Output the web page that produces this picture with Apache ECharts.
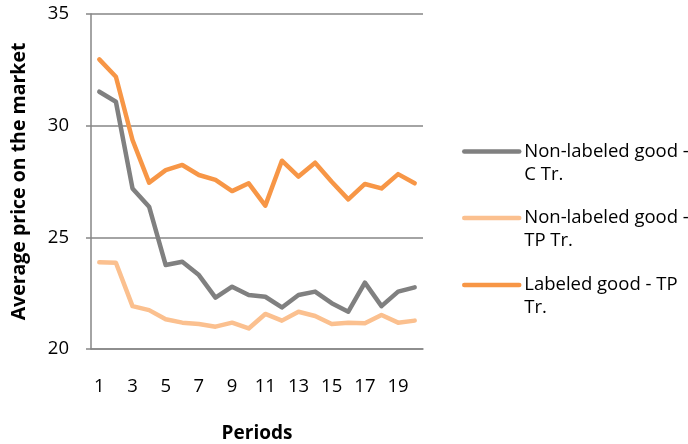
<!DOCTYPE html>
<html>
<head>
<meta charset="utf-8">
<script src="https://cdn.jsdelivr.net/npm/echarts@6/dist/echarts.min.js"></script>
<style>
html,body{margin:0;padding:0;background:#fff;}
#chart{width:688px;height:444px;}
</style>
</head>
<body>
<div id="chart"></div>
<script>
const periods = ['1','2','3','4','5','6','7','8','9','10','11','12','13','14','15','16','17','18','19','20'];
const seriesNames = ['Non-labeled good - C Tr.', 'Non-labeled good - TP Tr.', 'Labeled good - TP Tr.'];
const legendLabels = ['Non-labeled good -\nC Tr.', 'Non-labeled good -\nTP Tr.', 'Labeled good - TP\nTr.'];
const nonLabeledC = [31.52, 31.07, 27.19, 26.37, 23.76, 23.91, 23.31, 22.30, 22.79, 22.42, 22.34, 21.86, 22.42, 22.57, 22.05, 21.67, 22.97, 21.92, 22.57, 22.76];
const nonLabeledTP = [23.88, 23.86, 21.92, 21.74, 21.33, 21.18, 21.12, 21.00, 21.18, 20.92, 21.57, 21.27, 21.67, 21.48, 21.12, 21.18, 21.15, 21.52, 21.18, 21.27];
const labeledTP = [32.97, 32.19, 29.36, 27.45, 28.01, 28.24, 27.79, 27.57, 27.07, 27.42, 26.42, 28.43, 27.72, 28.34, 27.49, 26.70, 27.39, 27.19, 27.83, 27.42];
const yMin = 20, yMax = 35, yStep = 5;

const colors = ['#808080', '#FBC08F', '#F79646'];
const values = [nonLabeledC, nonLabeledTP, labeledTP];
const FONT = '"Open Sans", sans-serif';
const axisGray = '#868686';

const legendTops = [117, 183.5, 250.5];
const legends = seriesNames.map((n, i) => ({
  data: [n],
  orient: 'vertical',
  left: 462,
  top: legendTops[i],
  padding: 0,
  itemWidth: 55,
  itemHeight: 14,
  itemGap: 5,
  itemStyle: {opacity: 0},
  lineStyle: {width: 4.5, cap: 'round'},
  formatter: (name) => '\n' + legendLabels[seriesNames.indexOf(name)],
  textStyle: {fontFamily: FONT, fontSize: 18.5, color: '#000', lineHeight: 23}
}));

const chart = echarts.init(document.getElementById('chart'), null, {renderer: 'canvas'});
chart.setOption({
  animation: false,
  backgroundColor: '#fff',
  textStyle: {fontFamily: FONT},
  grid: {left: 91, right: 265, top: 14, bottom: 95, containLabel: false, outerBoundsMode: 'none'},
  legend: legends,
  xAxis: {
    type: 'category',
    data: periods,
    boundaryGap: true,
    name: 'Periods',
    nameLocation: 'middle',
    nameGap: 75,
    nameTextStyle: {fontFamily: FONT, fontSize: 19, fontWeight: 'bold', color: '#000'},
    axisLine: {show: true, lineStyle: {color: axisGray, width: 1.5}},
    axisTick: {show: false},
    axisLabel: {interval: 1, margin: 28, fontFamily: FONT, fontSize: 18.5, color: '#000'},
    splitLine: {show: false}
  },
  yAxis: {
    type: 'value',
    min: yMin, max: yMax, interval: yStep,
    name: 'Average price on the market',
    nameLocation: 'middle',
    nameRotate: 90,
    nameGap: 62,
    nameTextStyle: {fontFamily: FONT, fontSize: 19.5, fontWeight: 'bold', color: '#000'},
    axisLine: {show: true, lineStyle: {color: axisGray, width: 1.5}},
    axisTick: {show: true, length: 5, lineStyle: {color: axisGray, width: 1.5}},
    axisLabel: {margin: 22, fontFamily: FONT, fontSize: 18.5, color: '#000'},
    splitLine: {show: true, lineStyle: {color: axisGray, width: 1.5}}
  },
  series: seriesNames.map((n, i) => ({
    name: n,
    type: 'line',
    data: values[i],
    symbol: 'none',
    showSymbol: false,
    color: colors[i],
    lineStyle: {color: colors[i], width: 4.5, cap: 'round', join: 'round'},
    z: 2 + (i === 1 ? 0 : i === 0 ? 1 : 2)
  }))
});
</script>
</body>
</html>
